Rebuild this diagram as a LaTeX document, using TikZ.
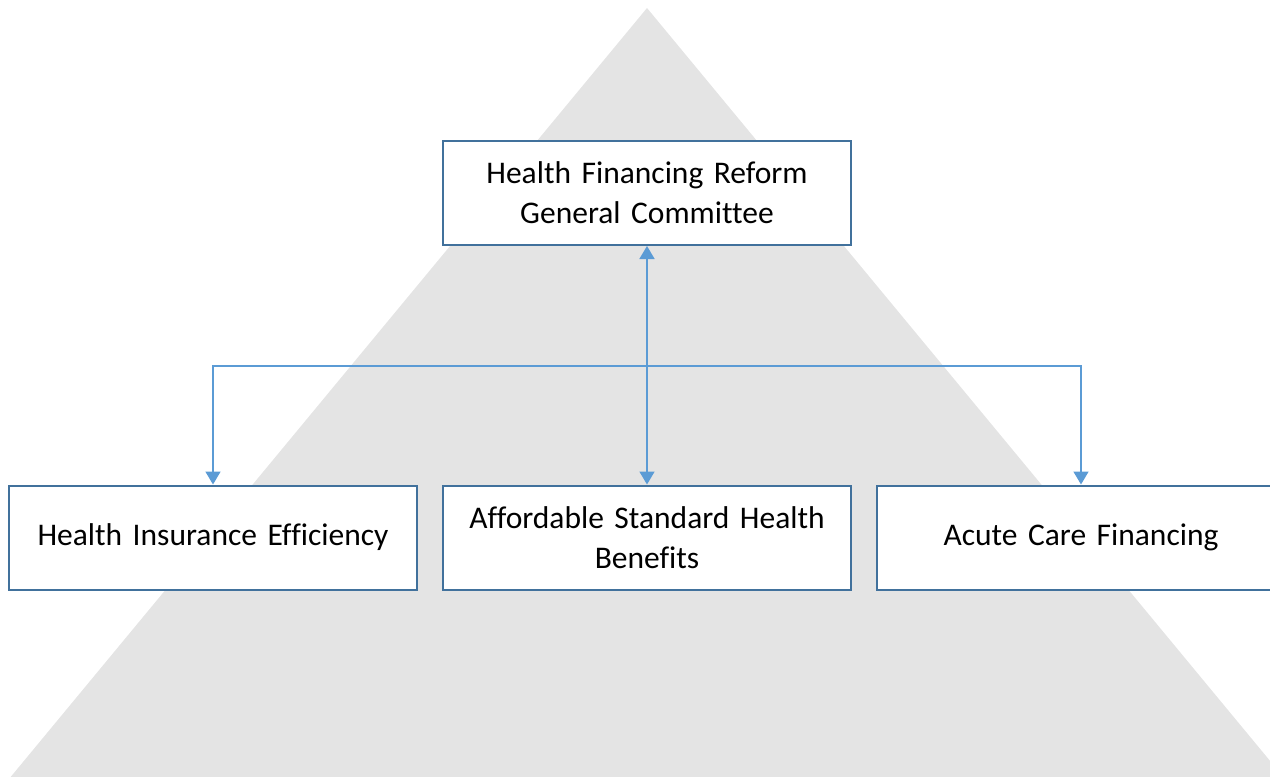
\documentclass[tikz,border=0pt]{standalone}
\usepackage{fontspec}
\setmainfont{Carlito}[Ligatures={NoCommon}]
\usetikzlibrary{arrows.meta}
\definecolor{tri}{HTML}{E4E4E4}
\definecolor{boxline}{HTML}{41719C}
\definecolor{conn}{HTML}{5B9BD5}
\begin{document}
\begin{tikzpicture}[x=1pt,y=-1pt,
  orgbox/.style={draw=boxline, line width=2pt, fill=white, minimum width=408pt, minimum height=104pt,
    inner sep=0pt, text width=390pt, align=center, font=\fontsize{31.5}{40}\selectfont},
  link/.style={draw=conn, line width=1.6pt, -{Triangle[width=15pt,length=13pt]}},
  dlink/.style={draw=conn, line width=1.6pt, {Triangle[width=15pt,length=13pt]}-{Triangle[width=15pt,length=13pt]}}]
\useasboundingbox (0,0) rectangle (1270,777);
\clip (0,0) rectangle (1270,777);
\fill[tri] (647,8) -- (1290,785) -- (4,785) -- cycle;
\node[orgbox] (top) at (647,193) {Health Financing Reform\\General Committee};
\node[orgbox] (left) at (213,537.5) {Health Insurance Efficiency};
\node[orgbox] (mid) at (647,537.5) {Affordable Standard Health\\Benefits};
\node[orgbox] (right) at (1081,537.5) {Acute Care Financing};
\coordinate (j) at (647,366);
\draw[dlink] (top.south) -- (mid.north);
\draw[link] (j) -| (left.north);
\draw[link] (j) -| (right.north);
\end{tikzpicture}
\end{document}
